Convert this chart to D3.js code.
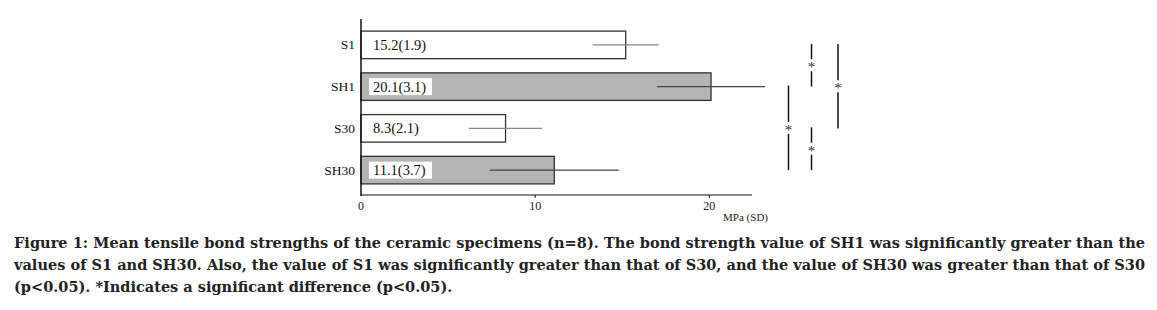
<!DOCTYPE html>
<html>
<head>
<meta charset="utf-8">
<script src="https://cdn.jsdelivr.net/npm/d3@7"></script>
<style>
  body { margin: 0; background: #fff; }
</style>
</head>
<body>
<div id="chart"></div>
<script>
// data
var groups = ["S1", "SH1", "S30", "SH30"];
var means = [15.2, 20.1, 8.3, 11.1];
var sds = [1.9, 3.1, 2.1, 3.7];
var fills = ["#ffffff", "#b4b4b4", "#ffffff", "#b4b4b4"];
var xTicks = [0, 10, 20];
// significance brackets: [from group, to group]
var sigPairs = [["S1", "SH1"], ["S1", "S30"], ["SH1", "SH30"], ["S30", "SH30"]];
var sigCols = [811.5, 838, 788.5, 811.5];

var captionLines = [
  "Figure 1: Mean tensile bond strengths of the ceramic specimens (n=8). The bond strength value of SH1 was significantly greater than the",
  "values of S1 and SH30. Also, the value of S1 was significantly greater than that of S30, and the value of SH30 was greater than that of S30",
  "(p<0.05). *Indicates a significant difference (p<0.05)."
];

var W = 1157, H = 310;
var svg = d3.select("#chart")
  .append("svg")
    .attr("width", W)
    .attr("height", H);

var x0 = 361, yTop = 19, yBase = 195;

var x = d3.scaleLinear()
  .domain([0, 20])
  .range([x0, 709.3]);

var y = d3.scaleBand()
  .domain(groups)
  .range([24, 191])
  .paddingInner(0.34)
  .paddingOuter(0.17);

var serif = "'Liberation Serif', 'Times New Roman', serif";

// bars
svg.selectAll("rect.bar")
  .data(groups)
  .enter()
  .append("rect")
    .attr("class", "bar")
    .attr("x", x(0))
    .attr("y", function(d) { return y(d); })
    .attr("width", function(d, i) { return x(means[i]) - x(0); })
    .attr("height", y.bandwidth())
    .attr("fill", function(d, i) { return fills[i]; })
    .attr("stroke", "#333")
    .attr("stroke-width", 1.3);

// error bars (both sides, horizontal)
svg.selectAll("line.err")
  .data(groups)
  .enter()
  .append("line")
    .attr("x1", function(d, i) { return x(means[i] - sds[i]); })
    .attr("x2", function(d, i) { return x(means[i] + sds[i]); })
    .attr("y1", function(d) { return y(d) + y.bandwidth() / 2; })
    .attr("y2", function(d) { return y(d) + y.bandwidth() / 2; })
    .attr("stroke", function(d, i) { return i % 2 ? "#444" : "#888"; })
    .attr("stroke-width", 1.2);

// value labels in white boxes
var lab = svg.selectAll("g.lab")
  .data(groups)
  .enter()
  .append("g")
    .attr("transform", function(d) { return "translate(369," + (y(d) + y.bandwidth() / 2) + ")"; });
lab.append("rect")
  .attr("x", 0)
  .attr("y", -8.5)
  .attr("width", 63)
  .attr("height", 17)
  .attr("fill", "#fff");
lab.append("text")
  .attr("x", 4)
  .attr("y", 5)
  .attr("font-family", serif)
  .attr("font-size", 14.5)
  .attr("fill", "#111")
  .text(function(d, i) { return means[i].toFixed(1) + "(" + sds[i].toFixed(1) + ")"; });

// axes
svg.append("line")
  .attr("x1", x0).attr("x2", x0)
  .attr("y1", yTop).attr("y2", yBase + 1)
  .attr("stroke", "#111").attr("stroke-width", 1.5);
svg.append("line")
  .attr("x1", x0).attr("x2", 752)
  .attr("y1", yBase).attr("y2", yBase)
  .attr("stroke", "#111").attr("stroke-width", 1.2);

svg.selectAll("line.tick")
  .data(xTicks.slice(1))
  .enter()
  .append("line")
    .attr("x1", function(d) { return x(d); })
    .attr("x2", function(d) { return x(d); })
    .attr("y1", yBase).attr("y2", yBase + 3)
    .attr("stroke", "#111");

svg.selectAll("text.tick")
  .data(xTicks)
  .enter()
  .append("text")
    .attr("x", function(d) { return x(d); })
    .attr("y", 210)
    .attr("text-anchor", "middle")
    .attr("font-family", serif)
    .attr("font-size", 12)
    .attr("fill", "#222")
    .text(function(d) { return d; });

svg.append("text")
  .attr("x", 768)
  .attr("y", 221)
  .attr("text-anchor", "end")
  .attr("font-family", serif)
  .attr("font-size", 11)
  .attr("fill", "#222")
  .text("MPa (SD)");

// category labels
svg.selectAll("text.cat")
  .data(groups)
  .enter()
  .append("text")
    .attr("x", 355)
    .attr("y", function(d) { return y(d) + y.bandwidth() / 2 + 4.5; })
    .attr("text-anchor", "end")
    .attr("font-family", serif)
    .attr("font-size", 13.5)
    .attr("fill", "#111")
    .text(function(d) { return d; });

// significance markers
sigPairs.forEach(function(p, i) {
  var ya = y(p[0]) + y.bandwidth() / 2 - 1;
  var yb = y(p[1]) + y.bandwidth() / 2;
  var ym = (ya + yb) / 2;
  var cx = sigCols[i];
  svg.append("line")
    .attr("x1", cx).attr("x2", cx)
    .attr("y1", ya).attr("y2", ym - 6)
    .attr("stroke", "#111").attr("stroke-width", 1.5);
  svg.append("line")
    .attr("x1", cx).attr("x2", cx)
    .attr("y1", ym + 6).attr("y2", yb)
    .attr("stroke", "#111").attr("stroke-width", 1.5);
  svg.append("text")
    .attr("x", cx)
    .attr("y", ym + 7)
    .attr("text-anchor", "middle")
    .attr("font-family", serif)
    .attr("font-size", 15)
    .attr("fill", "#333")
    .text("*");
});

// caption
var capY = [248, 270, 292];
captionLines.forEach(function(t, i) {
  var tx = svg.append("text")
    .attr("x", 14)
    .attr("y", capY[i])
    .attr("font-family", "'DejaVu Serif', serif")
    .attr("font-weight", "bold")
    .attr("font-size", 14.5)
    .attr("fill", "#222")
    .text(t);
  if (i < 2) tx.attr("textLength", 1131).attr("lengthAdjust", "spacing");
});
</script>
</body>
</html>
